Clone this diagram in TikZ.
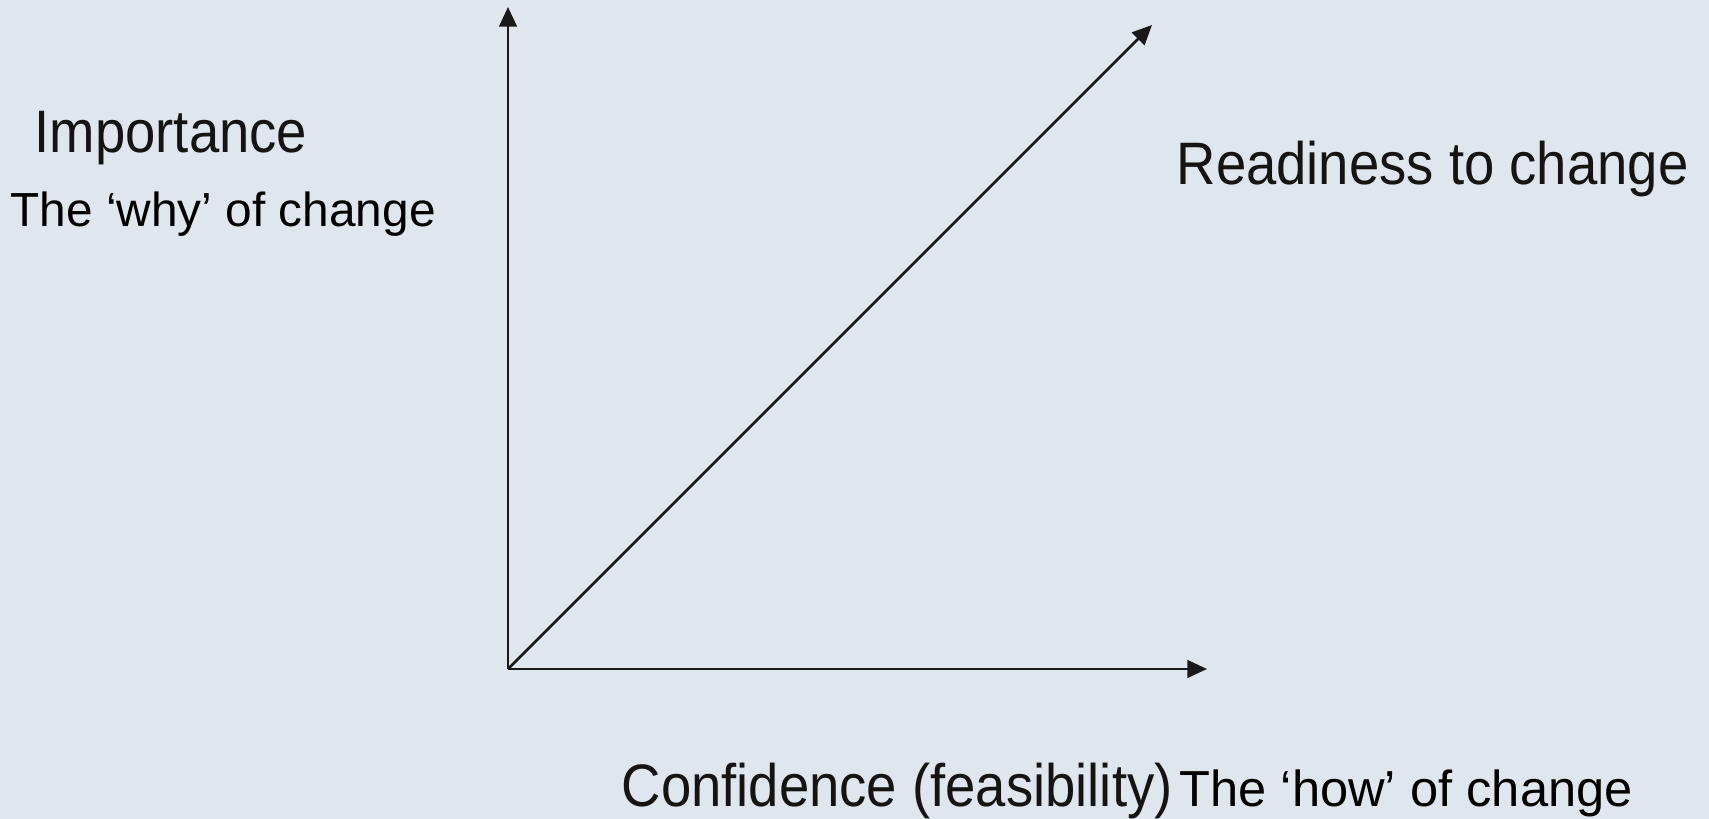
\documentclass[tikz,border=0pt]{standalone}
\usepackage{fontspec}
\setmainfont{Liberation Sans}
\usepackage{xcolor}
\usetikzlibrary{arrows.meta}
\definecolor{paleblue}{HTML}{E0E6EE}
\definecolor{labelgrey}{HTML}{141414}
\tikzset{
    axis-arrow/.style = {draw=black!90, line width=0.8pt, -{Triangle[length=5.6pt, width=5pt]}},
    axis-label/.style = {text=labelgrey, anchor=base west, inner sep=0pt, font=\fontsize{15.5}{18}\selectfont, yscale=1.1, transform shape},
    note-label/.style = {text=black, anchor=base west, inner sep=0pt, font=\fontsize{13.6}{16}\selectfont},
}

\begin{document}
\begin{tikzpicture}[x=0.1mm, y=0.1mm]
% background, same size as the page
\fill[paleblue] (0,0) rectangle (1709,819);
\useasboundingbox (0,0) rectangle (1709,819);

\coordinate (origin) at (508,150);
\coordinate (ytip) at (508,812);
\coordinate (xtip) at (1207,150);
\coordinate (dtip) at (1152,794);

\draw[axis-arrow] (origin) -- (ytip);
\draw[axis-arrow] (origin) -- (xtip);
\draw[axis-arrow] (origin) -- (dtip);

\node[axis-label] (importance) at (34,666) {Importance};
\node[note-label] (why) at (10,592) {The ‘why’ of change};
\node[axis-label] (readiness) at (1176,634) {Readiness to change};
\node[axis-label] (confidence) at (621,12) {Confidence (feasibility)};
\node[note-label, font=\fontsize{14.4}{17}\selectfont] (how) at (1179,12) {The ‘how’ of change};
\end{tikzpicture}
\end{document}
